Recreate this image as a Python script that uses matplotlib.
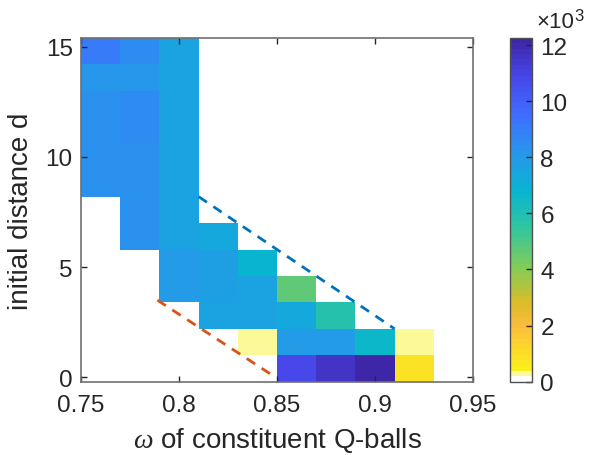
import numpy as np
import matplotlib
matplotlib.use("Agg")
import matplotlib.pyplot as plt
from matplotlib.colors import ListedColormap, LinearSegmentedColormap

plt.rcParams['font.family'] = ['Liberation Sans', 'DejaVu Sans']
plt.rcParams['mathtext.fontset'] = 'custom'
plt.rcParams['mathtext.rm'] = 'Liberation Sans'
plt.rcParams['mathtext.it'] = 'Liberation Serif:italic'

# ---- data ----
omega = [0.76, 0.78, 0.80, 0.82, 0.84, 0.86, 0.88, 0.90, 0.92]
dist = [0.4, 1.6, 2.8, 4.0, 5.2, 6.4, 7.6, 8.8, 10.0, 11.2, 12.4, 13.6, 14.8]
# rows: dist (bottom to top), cols: omega
values = [
    [0, 0, 0, 0, 0, 10900, 11600, 12250, 800],
    [0, 0, 0, 0, 300, 7900, 7900, 6650, 300],
    [0, 0, 0, 7600, 7600, 7400, 5800, 0, 0],
    [0, 0, 7900, 7700, 7600, 4650, 0, 0, 0],
    [0, 0, 7900, 7700, 6700, 0, 0, 0, 0],
    [0, 8300, 7600, 7400, 0, 0, 0, 0, 0],
    [0, 8300, 7600, 0, 0, 0, 0, 0, 0],
    [8400, 8400, 7600, 0, 0, 0, 0, 0, 0],
    [8400, 8400, 7600, 0, 0, 0, 0, 0, 0],
    [8250, 8600, 7600, 0, 0, 0, 0, 0, 0],
    [8250, 8600, 7600, 0, 0, 0, 0, 0, 0],
    [8150, 8150, 7600, 0, 0, 0, 0, 0, 0],
    [9050, 8450, 7600, 0, 0, 0, 0, 0, 0],
]
upper_line_omega = [0.81, 0.91]
upper_line_d = [8.2, 2.2]
lower_line_omega = [0.789, 0.847]
lower_line_d = [3.5, 0.13]
cbar_ticks = [0, 2, 4, 6, 8, 10, 12]
x_ticks = [0.75, 0.8, 0.85, 0.9, 0.95]
y_ticks = [0, 5, 10, 15]

# ---- colormap: flipped parula with white / pale yellow at bottom ----
par_t = [0, 0.111, 0.222, 0.333, 0.444, 0.556, 0.667, 0.778, 0.845, 0.889, 1.0]
par_c = [(0.2422, 0.1504, 0.6603), (0.2803, 0.2782, 0.9221), (0.2440, 0.4358, 0.9988),
         (0.1540, 0.5902, 0.9218), (0.0297, 0.7082, 0.8163), (0.1938, 0.7758, 0.6251),
         (0.5044, 0.7993, 0.3480), (0.8634, 0.7406, 0.1596), (0.985, 0.735, 0.245),
         (0.9892, 0.8136, 0.1885), (0.9769, 0.9839, 0.0805)]
parula = LinearSegmentedColormap.from_list('parula', list(zip(par_t, par_c)))
n = 64
cols = parula(np.linspace(1, 0, n))
cols[0] = (1, 1, 1, 1)
cols[1] = (0.99, 0.975, 0.6, 1)
cmap = ListedColormap(cols)

vmin, vmax = 0, 12250

fig = plt.figure(figsize=(5.91, 4.56), dpi=100)
ax = fig.add_axes([81/591, 1-382.7/456, 392/591, 343.7/456])

om = np.array(omega)
dd = np.array(dist)
xe = np.concatenate([om - 0.01, [om[-1] + 0.01]])
ye = np.concatenate([dd - 0.6, [dd[-1] + 0.6]])
mesh = ax.pcolormesh(xe, ye, np.array(values, float), cmap=cmap, vmin=vmin, vmax=vmax,
                     edgecolors='none', antialiased=False, shading='flat')

ax.plot(upper_line_omega, upper_line_d, color='#0072BD', lw=2.0, dashes=(3.6, 2.8))
ax.plot(lower_line_omega, lower_line_d, color='#D95319', lw=2.0, dashes=(3.6, 2.8))

ax.set_xlim(0.75, 0.95)
ax.set_ylim(-0.2, 15.4)
ax.set_xticks(x_ticks)
ax.set_xticklabels(['0.75', '0.8', '0.85', '0.9', '0.95'])
ax.set_yticks(y_ticks)
ax.tick_params(direction='in', length=4, width=1, top=True, right=True,
               labelsize=17.5, colors='#262626')
ax.tick_params(axis='x', pad=9)
ax.tick_params(axis='y', pad=6)
for s in ax.spines.values():
    s.set_color('#707070')
    s.set_linewidth(1.2)
ax.set_xlabel(r'$\omega$ of constituent Q-balls', fontsize=20, color='#262626', labelpad=6)
ax.set_ylabel('initial distance d', fontsize=20, color='#262626', labelpad=8)

cax = fig.add_axes([510/591, 1-382.7/456, 22/591, 343.7/456])
cb = fig.colorbar(mesh, cax=cax)
cb.set_ticks([t * 1000 for t in cbar_ticks])
cb.set_ticklabels([str(t) for t in cbar_ticks])
cax.tick_params(direction='in', length=4, width=1, labelsize=17.5, colors='#262626', pad=6)
cb.outline.set_edgecolor('#505050')
cb.outline.set_linewidth(1.0)
fig.text(536/591, 1-28/456, '×10', fontsize=16, color='#262626', ha='left', va='baseline')
fig.text(574/591, 1-21/456, '3', fontsize=12, color='#262626', ha='left', va='baseline')

fig.savefig('out.png', dpi=100)
